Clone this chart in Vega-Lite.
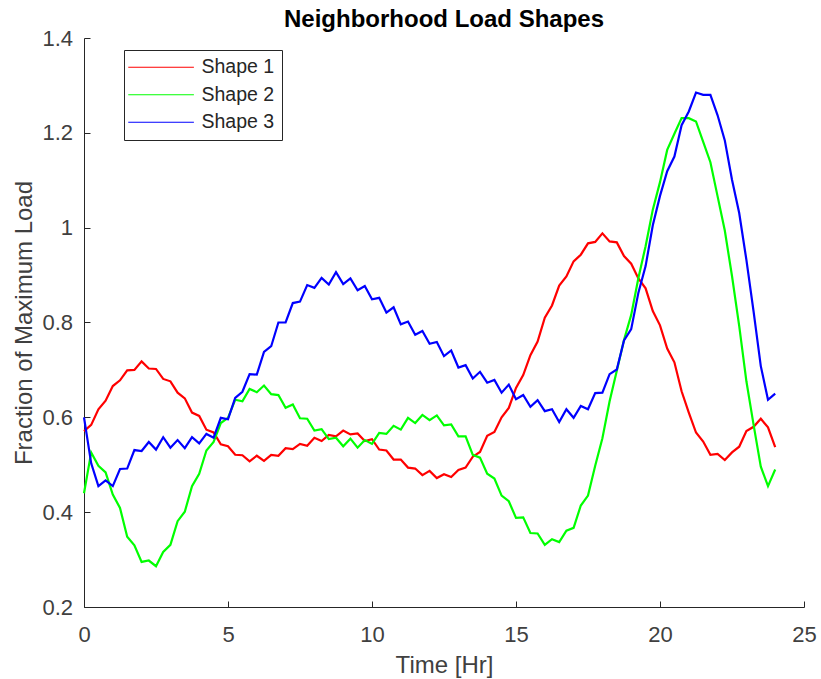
{
  "$schema": "https://vega.github.io/schema/vega-lite/v6.json",
  "width": 720,
  "height": 569,
  "autosize": {"type": "none"},
  "padding": {"left": 84, "top": 38, "right": 17, "bottom": 72},
  "background": "white",
  "title": {"text": "Neighborhood Load Shapes", "font": "Liberation Sans", "fontSize": 24, "fontWeight": "bold", "color": "#000000", "anchor": "middle", "frame": "group", "baseline": "alphabetic", "offset": -23.5},
  "config": {
    "view": {"stroke": null},
    "axis": {"grid": false, "domainColor": "#262626", "domainWidth": 1, "tickColor": "#262626", "tickWidth": 1, "tickSize": -6, "labelFlush": false, "labelFont": "Liberation Sans", "labelFontSize": 22, "labelColor": "#404040", "titleFont": "Liberation Sans", "titleFontSize": 24, "titleFontWeight": "normal", "titleColor": "#404040"}
  },
  "data": {"values": [
    {"t":0,"Shape 1":0.571,"Shape 2":0.440,"Shape 3":0.600},
    {"t":0.25,"Shape 1":0.584,"Shape 2":0.526,"Shape 3":0.503},
    {"t":0.5,"Shape 1":0.617,"Shape 2":0.498,"Shape 3":0.455},
    {"t":0.75,"Shape 1":0.635,"Shape 2":0.484,"Shape 3":0.467},
    {"t":1,"Shape 1":0.666,"Shape 2":0.437,"Shape 3":0.455},
    {"t":1.25,"Shape 1":0.678,"Shape 2":0.409,"Shape 3":0.491},
    {"t":1.5,"Shape 1":0.699,"Shape 2":0.348,"Shape 3":0.492},
    {"t":1.75,"Shape 1":0.700,"Shape 2":0.330,"Shape 3":0.531},
    {"t":2,"Shape 1":0.718,"Shape 2":0.295,"Shape 3":0.529},
    {"t":2.25,"Shape 1":0.703,"Shape 2":0.298,"Shape 3":0.548},
    {"t":2.5,"Shape 1":0.702,"Shape 2":0.286,"Shape 3":0.532},
    {"t":2.75,"Shape 1":0.681,"Shape 2":0.316,"Shape 3":0.558},
    {"t":3,"Shape 1":0.676,"Shape 2":0.331,"Shape 3":0.536},
    {"t":3.25,"Shape 1":0.652,"Shape 2":0.381,"Shape 3":0.552},
    {"t":3.5,"Shape 1":0.640,"Shape 2":0.401,"Shape 3":0.535},
    {"t":3.75,"Shape 1":0.610,"Shape 2":0.455,"Shape 3":0.558},
    {"t":4,"Shape 1":0.603,"Shape 2":0.481,"Shape 3":0.545},
    {"t":4.25,"Shape 1":0.574,"Shape 2":0.530,"Shape 3":0.565},
    {"t":4.5,"Shape 1":0.568,"Shape 2":0.548,"Shape 3":0.557},
    {"t":4.75,"Shape 1":0.543,"Shape 2":0.588,"Shape 3":0.599},
    {"t":5,"Shape 1":0.539,"Shape 2":0.599,"Shape 3":0.596},
    {"t":5.25,"Shape 1":0.521,"Shape 2":0.637,"Shape 3":0.641},
    {"t":5.5,"Shape 1":0.520,"Shape 2":0.634,"Shape 3":0.654},
    {"t":5.75,"Shape 1":0.507,"Shape 2":0.660,"Shape 3":0.691},
    {"t":6,"Shape 1":0.519,"Shape 2":0.653,"Shape 3":0.690},
    {"t":6.25,"Shape 1":0.508,"Shape 2":0.667,"Shape 3":0.738},
    {"t":6.5,"Shape 1":0.521,"Shape 2":0.649,"Shape 3":0.750},
    {"t":6.75,"Shape 1":0.519,"Shape 2":0.647,"Shape 3":0.800},
    {"t":7,"Shape 1":0.535,"Shape 2":0.620,"Shape 3":0.800},
    {"t":7.25,"Shape 1":0.533,"Shape 2":0.627,"Shape 3":0.841},
    {"t":7.5,"Shape 1":0.544,"Shape 2":0.598,"Shape 3":0.844},
    {"t":7.75,"Shape 1":0.540,"Shape 2":0.597,"Shape 3":0.879},
    {"t":8,"Shape 1":0.557,"Shape 2":0.572,"Shape 3":0.873},
    {"t":8.25,"Shape 1":0.550,"Shape 2":0.575,"Shape 3":0.894},
    {"t":8.5,"Shape 1":0.563,"Shape 2":0.554,"Shape 3":0.880},
    {"t":8.75,"Shape 1":0.560,"Shape 2":0.557,"Shape 3":0.906},
    {"t":9,"Shape 1":0.572,"Shape 2":0.539,"Shape 3":0.881},
    {"t":9.25,"Shape 1":0.564,"Shape 2":0.555,"Shape 3":0.893},
    {"t":9.5,"Shape 1":0.566,"Shape 2":0.536,"Shape 3":0.868},
    {"t":9.75,"Shape 1":0.550,"Shape 2":0.552,"Shape 3":0.877},
    {"t":10,"Shape 1":0.554,"Shape 2":0.544,"Shape 3":0.849},
    {"t":10.25,"Shape 1":0.532,"Shape 2":0.567,"Shape 3":0.852},
    {"t":10.5,"Shape 1":0.530,"Shape 2":0.565,"Shape 3":0.821},
    {"t":10.75,"Shape 1":0.511,"Shape 2":0.582,"Shape 3":0.832},
    {"t":11,"Shape 1":0.511,"Shape 2":0.574,"Shape 3":0.796},
    {"t":11.25,"Shape 1":0.494,"Shape 2":0.599,"Shape 3":0.802},
    {"t":11.5,"Shape 1":0.492,"Shape 2":0.588,"Shape 3":0.774},
    {"t":11.75,"Shape 1":0.478,"Shape 2":0.605,"Shape 3":0.782},
    {"t":12,"Shape 1":0.487,"Shape 2":0.594,"Shape 3":0.755},
    {"t":12.25,"Shape 1":0.472,"Shape 2":0.604,"Shape 3":0.759},
    {"t":12.5,"Shape 1":0.480,"Shape 2":0.583,"Shape 3":0.729},
    {"t":12.75,"Shape 1":0.474,"Shape 2":0.585,"Shape 3":0.741},
    {"t":13,"Shape 1":0.489,"Shape 2":0.560,"Shape 3":0.705},
    {"t":13.25,"Shape 1":0.494,"Shape 2":0.560,"Shape 3":0.710},
    {"t":13.5,"Shape 1":0.517,"Shape 2":0.521,"Shape 3":0.682},
    {"t":13.75,"Shape 1":0.527,"Shape 2":0.515,"Shape 3":0.696},
    {"t":14,"Shape 1":0.561,"Shape 2":0.481,"Shape 3":0.673},
    {"t":14.25,"Shape 1":0.569,"Shape 2":0.471,"Shape 3":0.679},
    {"t":14.5,"Shape 1":0.600,"Shape 2":0.435,"Shape 3":0.652},
    {"t":14.75,"Shape 1":0.620,"Shape 2":0.423,"Shape 3":0.669},
    {"t":15,"Shape 1":0.662,"Shape 2":0.388,"Shape 3":0.638},
    {"t":15.25,"Shape 1":0.689,"Shape 2":0.389,"Shape 3":0.647},
    {"t":15.5,"Shape 1":0.731,"Shape 2":0.356,"Shape 3":0.622},
    {"t":15.75,"Shape 1":0.760,"Shape 2":0.355,"Shape 3":0.636},
    {"t":16,"Shape 1":0.810,"Shape 2":0.331,"Shape 3":0.613},
    {"t":16.25,"Shape 1":0.836,"Shape 2":0.343,"Shape 3":0.617},
    {"t":16.5,"Shape 1":0.878,"Shape 2":0.337,"Shape 3":0.590},
    {"t":16.75,"Shape 1":0.897,"Shape 2":0.361,"Shape 3":0.617},
    {"t":17,"Shape 1":0.929,"Shape 2":0.367,"Shape 3":0.599},
    {"t":17.25,"Shape 1":0.943,"Shape 2":0.414,"Shape 3":0.624},
    {"t":17.5,"Shape 1":0.967,"Shape 2":0.435,"Shape 3":0.617},
    {"t":17.75,"Shape 1":0.970,"Shape 2":0.498,"Shape 3":0.651},
    {"t":18,"Shape 1":0.988,"Shape 2":0.556,"Shape 3":0.652},
    {"t":18.25,"Shape 1":0.971,"Shape 2":0.634,"Shape 3":0.691},
    {"t":18.5,"Shape 1":0.969,"Shape 2":0.698,"Shape 3":0.701},
    {"t":18.75,"Shape 1":0.940,"Shape 2":0.763,"Shape 3":0.762},
    {"t":19,"Shape 1":0.924,"Shape 2":0.816,"Shape 3":0.786},
    {"t":19.25,"Shape 1":0.893,"Shape 2":0.894,"Shape 3":0.863},
    {"t":19.5,"Shape 1":0.872,"Shape 2":0.961,"Shape 3":0.919},
    {"t":19.75,"Shape 1":0.824,"Shape 2":1.038,"Shape 3":1.005},
    {"t":20,"Shape 1":0.794,"Shape 2":1.096,"Shape 3":1.067},
    {"t":20.25,"Shape 1":0.745,"Shape 2":1.164,"Shape 3":1.119},
    {"t":20.5,"Shape 1":0.716,"Shape 2":1.198,"Shape 3":1.150},
    {"t":20.75,"Shape 1":0.655,"Shape 2":1.231,"Shape 3":1.216},
    {"t":21,"Shape 1":0.610,"Shape 2":1.231,"Shape 3":1.245},
    {"t":21.25,"Shape 1":0.568,"Shape 2":1.224,"Shape 3":1.285},
    {"t":21.5,"Shape 1":0.549,"Shape 2":1.181,"Shape 3":1.280},
    {"t":21.75,"Shape 1":0.521,"Shape 2":1.138,"Shape 3":1.280},
    {"t":22,"Shape 1":0.523,"Shape 2":1.066,"Shape 3":1.237},
    {"t":22.25,"Shape 1":0.510,"Shape 2":0.994,"Shape 3":1.184},
    {"t":22.5,"Shape 1":0.526,"Shape 2":0.898,"Shape 3":1.101},
    {"t":22.75,"Shape 1":0.538,"Shape 2":0.793,"Shape 3":1.031},
    {"t":23,"Shape 1":0.571,"Shape 2":0.676,"Shape 3":0.932},
    {"t":23.25,"Shape 1":0.580,"Shape 2":0.584,"Shape 3":0.823},
    {"t":23.5,"Shape 1":0.597,"Shape 2":0.496,"Shape 3":0.708},
    {"t":23.75,"Shape 1":0.579,"Shape 2":0.455,"Shape 3":0.637},
    {"t":24,"Shape 1":0.537,"Shape 2":0.490,"Shape 3":0.650}
  ]},
  "transform": [{"fold": ["Shape 1", "Shape 2", "Shape 3"], "as": ["series", "load"]}],
  "mark": {"type": "line", "strokeWidth": 2.2},
  "encoding": {
    "x": {"field": "t", "type": "quantitative", "scale": {"domain": [0, 25], "nice": false, "zero": false},
      "axis": {"title": "Time [Hr]", "values": [0, 5, 10, 15, 20, 25], "format": "d", "labelPadding": 23, "titlePadding": 8}},
    "y": {"field": "load", "type": "quantitative", "scale": {"domain": [0.2, 1.4], "nice": false, "zero": false},
      "axis": {"title": "Fraction of Maximum Load", "values": [0.2, 0.4, 0.6, 0.8, 1, 1.2, 1.4], "format": "~g", "labelPadding": 17.5, "titlePadding": 5}},
    "color": {"field": "series", "type": "nominal",
      "scale": {"domain": ["Shape 1", "Shape 2", "Shape 3"], "range": ["#ff0000", "#00ff00", "#0000ff"]},
      "legend": {"title": null, "orient": "none", "legendX": 40, "legendY": 12, "direction": "vertical", "symbolType": "M-2,0H8.1", "symbolSize": 169, "symbolStrokeWidth": 1.2, "labelFont": "Liberation Sans", "labelFontSize": 19.5, "labelColor": "#262626", "labelOffset": 50.5, "rowPadding": 6.5, "padding": 7.5, "strokeColor": "#262626", "fillColor": "white"}}
  }
}
